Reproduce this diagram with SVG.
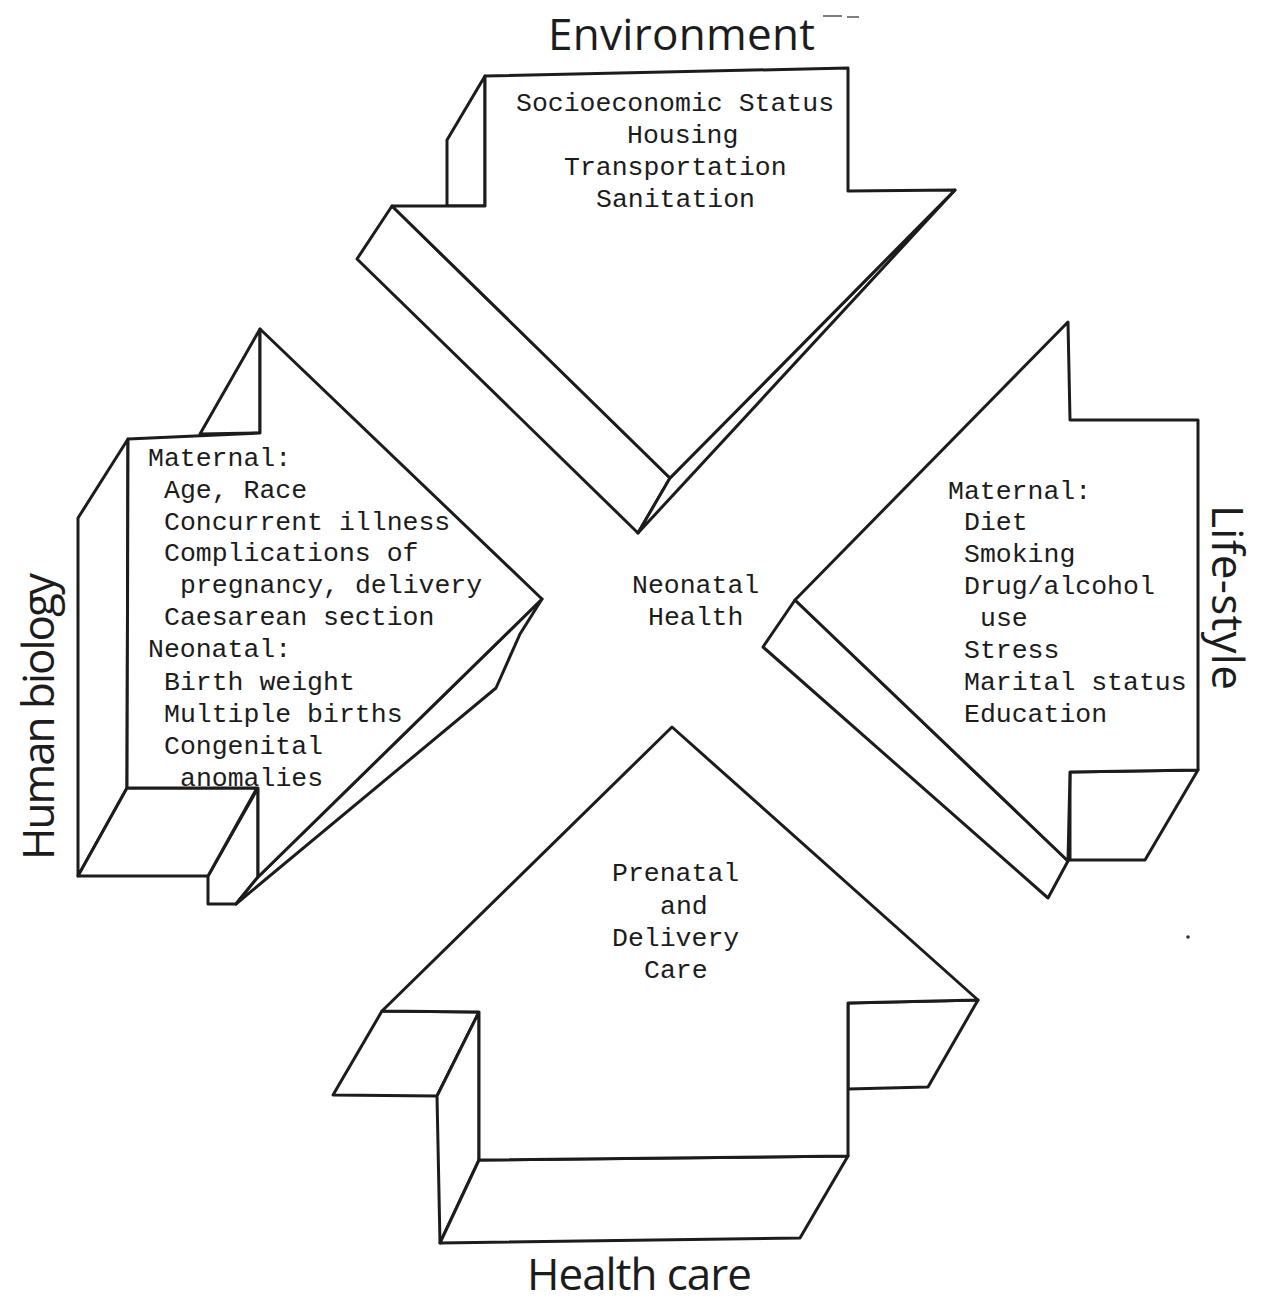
<svg xmlns="http://www.w3.org/2000/svg" width="1265" height="1301" viewBox="0 0 1265 1301">
<style>
.face{fill:#fff;stroke:#1c1c1c;stroke-width:3;stroke-linejoin:round}
.mono{font-family:"Liberation Mono","DejaVu Sans Mono",monospace;font-size:26.5px;fill:#1c1c1c}
.label{font-family:"Open Sans","Noto Sans",sans-serif;font-size:44px;fill:#1c1c1c}
</style>
<rect width="1265" height="1301" fill="#fff"/>
<g id="connectors"></g>

<g id="arrow-environment">
<polygon class="face" points="485,76 447,140 447,206 485,206"/>
<polygon class="face" points="392,206 670,478 638,533 357,259"/>
<polygon class="face" points="955,190 670,478 638,533"/>
<polygon class="face" points="485,76 848,68 848,191 955,190 670,478 392,206 485,206"/>
<text class="mono" x="516" y="111">Socioeconomic Status</text>
<text class="mono" x="627" y="143">Housing</text>
<text class="mono" x="564" y="175">Transportation</text>
<text class="mono" x="596" y="207">Sanitation</text>
<text class="label" x="548" y="50" textLength="267">Environment</text>
<path d="M823,16 L842,16 M847,17 L859,17" stroke="#555" stroke-width="1.5" fill="none"/>
</g>

<g id="arrow-human-biology">
<polygon class="face" points="128,439 78,518 78,876 127,788"/>
<polygon class="face" points="258,788 258,877 236,904 208,904 208,876"/>
<polygon class="face" points="127,788 257,788 208,876 78,876"/>
<polygon class="face" points="260,329 260,433 200,434"/>
<polygon class="face" points="542,599 520,634 496,688 236,904 258,877"/>
<polygon class="face" points="128,439 260,433 260,329 542,599 258,877 258,788 127,788"/>
<text class="mono" x="148" y="466">Maternal:</text>
<text class="mono" x="164" y="498">Age, Race</text>
<text class="mono" x="164" y="530">Concurrent illness</text>
<text class="mono" x="164" y="561">Complications of</text>
<text class="mono" x="180" y="593">pregnancy, delivery</text>
<text class="mono" x="164" y="625">Caesarean section</text>
<text class="mono" x="148" y="657">Neonatal:</text>
<text class="mono" x="164" y="690">Birth weight</text>
<text class="mono" x="164" y="722">Multiple births</text>
<text class="mono" x="164" y="754">Congenital</text>
<text class="mono" x="180" y="786">anomalies</text>
<text class="label" transform="translate(54,860) rotate(-90)" textLength="287">Human biology</text>
</g>

<g id="arrow-life-style">
<polygon class="face" points="1070,772 1198,770 1145,860 1070,860"/>
<polygon class="face" points="795,600 1068,861 1048,898 763,647"/>
<polygon class="face" points="1068,322 1070,420 1198,420 1198,770 1070,772 1068,861 795,600"/>
<text class="mono" x="948" y="499">Maternal:</text>
<text class="mono" x="964" y="530">Diet</text>
<text class="mono" x="964" y="562">Smoking</text>
<text class="mono" x="964" y="594">Drug/alcohol</text>
<text class="mono" x="980" y="626">use</text>
<text class="mono" x="964" y="658">Stress</text>
<text class="mono" x="964" y="690">Marital status</text>
<text class="mono" x="964" y="722">Education</text>
<text class="label" transform="translate(1212,505) rotate(90)" textLength="185">Life-style</text>
</g>

<g id="arrow-health-care">
<polygon class="face" points="382,1011 479,1012 437,1096 333,1095"/>
<polygon class="face" points="479,1012 479,1160 440,1243 437,1096"/>
<polygon class="face" points="479,1160 848,1156 800,1238 440,1243"/>
<polygon class="face" points="848,1003 978,1000 928,1087 848,1089"/>
<polygon class="face" points="672,727 978,1000 848,1003 848,1156 479,1160 479,1012 382,1011"/>
<text class="mono" x="612" y="881">Prenatal</text>
<text class="mono" x="660" y="914">and</text>
<text class="mono" x="612" y="946">Delivery</text>
<text class="mono" x="644" y="978">Care</text>
<text class="label" x="527" y="1290" textLength="225">Health care</text>
</g>

<g id="center-neonatal-health">
<text class="mono" x="632" y="593">Neonatal</text>
<text class="mono" x="648" y="625">Health</text>
</g>
<circle cx="1188" cy="937" r="1.8" fill="#333"/>
</svg>
